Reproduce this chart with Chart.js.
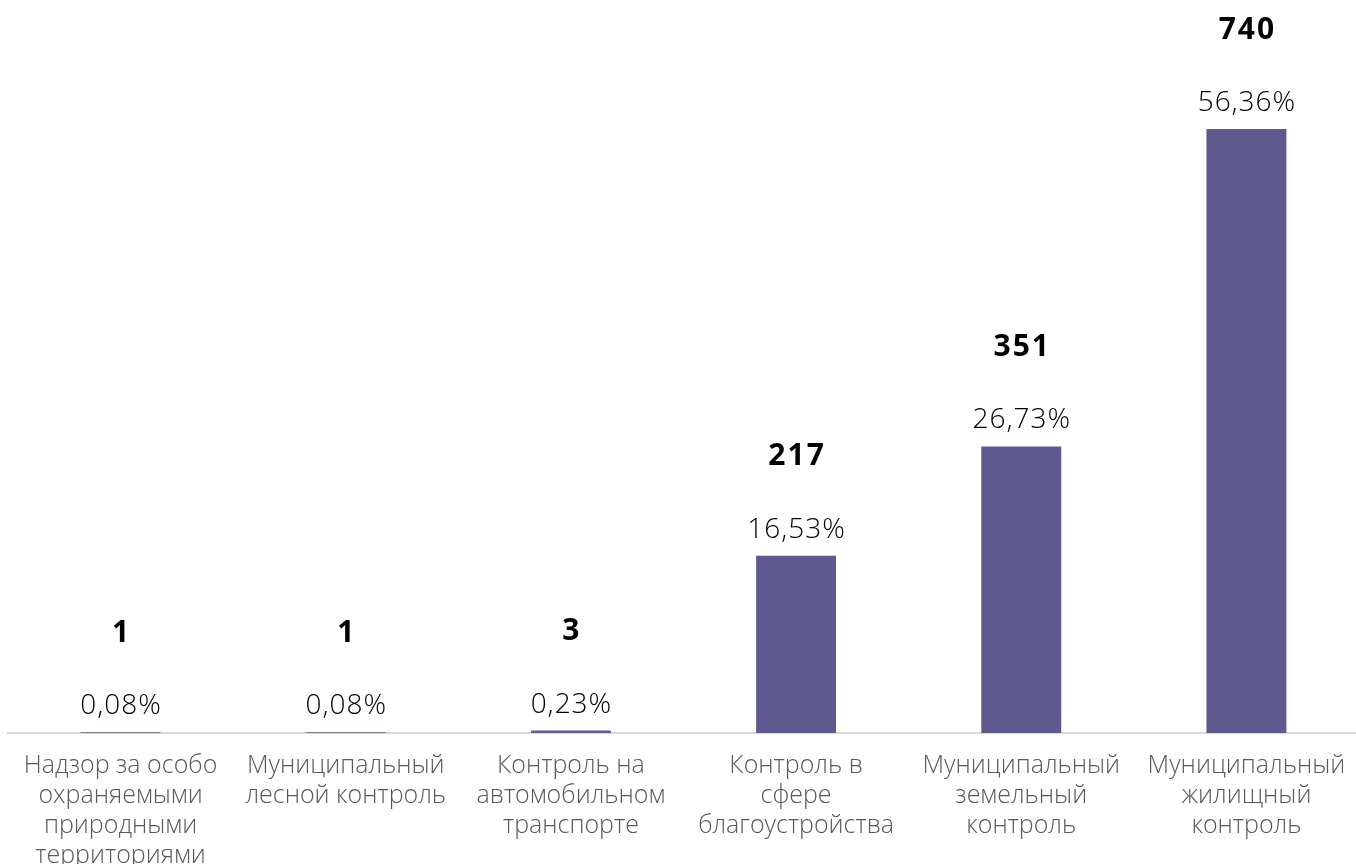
<!DOCTYPE html>
<html>
<head>
<meta charset="utf-8">
<script src="https://cdn.jsdelivr.net/npm/chart.js@4/dist/chart.umd.min.js"></script>
<style>
  html, body { margin: 0; padding: 0; background: #fff; overflow: hidden; }
  #wrap { width: 1360px; height: 864px; position: relative; }
</style>
</head>
<body>
<div id="wrap"><canvas id="chart"></canvas></div>
<script>
// chart data
const categories = [
    ["Надзор за особо", "охраняемыми", "природными", "территориями"],
    ["Муниципальный", "лесной контроль"],
    ["Контроль на", "автомобильном", "транспорте"],
    ["Контроль в", "сфере", "благоустройства"],
    ["Муниципальный", "земельный", "контроль"],
    ["Муниципальный", "жилищный", "контроль"]
];
const counts = [1, 1, 3, 217, 351, 740];
const shares = [0.08, 0.08, 0.23, 16.53, 26.73, 56.36];

const fontFamily = "'Open Sans', 'Noto Sans', sans-serif";

// labels above each bar: share % and bold count
const barLabels = {
    id: 'barLabels',
    afterDatasetsDraw(chart) {
        const ctx = chart.ctx;
        const meta = chart.getDatasetMeta(0);
        ctx.save();
        ctx.textAlign = 'center';
        ctx.textBaseline = 'middle';
        meta.data.forEach(function (bar, i) {
            ctx.fillStyle = '#000';
            ctx.font = '300 28px ' + fontFamily;
            ctx.letterSpacing = '1px';
            ctx.fillText(shares[i].toFixed(2).replace('.', ',') + '%', bar.x + 0.5, bar.y - 26);
            ctx.font = 'bold 30px ' + fontFamily;
            ctx.letterSpacing = '2px';
            ctx.fillText(String(counts[i]), bar.x + 1, bar.y - 99);
        });
        ctx.restore();
    }
};

new Chart(document.getElementById('chart'), {
    type: 'bar',
    data: {
        labels: categories,
        datasets: [{
            data: counts,
            backgroundColor: '#5e5a8f',
            barPercentage: 0.355,
            categoryPercentage: 1
        }]
    },
    options: {
        responsive: true,
        maintainAspectRatio: false,
        animation: false,
        layout: { padding: { left: 8, right: 1, top: 0, bottom: 0 } },
        plugins: {
            legend: { display: false },
            tooltip: { enabled: false }
        },
        scales: {
            x: {
                grid: { display: false },
                border: { display: true, color: '#d9d9d9', width: 2 },
                ticks: {
                    color: '#595959',
                    font: { family: fontFamily, size: 25, weight: 300, lineHeight: 1.2 },
                    padding: 10,
                    maxRotation: 0,
                    autoSkip: false
                },
                afterFit: function (scale) { scale.height = 131; }
            },
            y: {
                display: false,
                min: 0,
                max: 898
            }
        }
    },
    plugins: [barLabels]
});
</script>
</body>
</html>
